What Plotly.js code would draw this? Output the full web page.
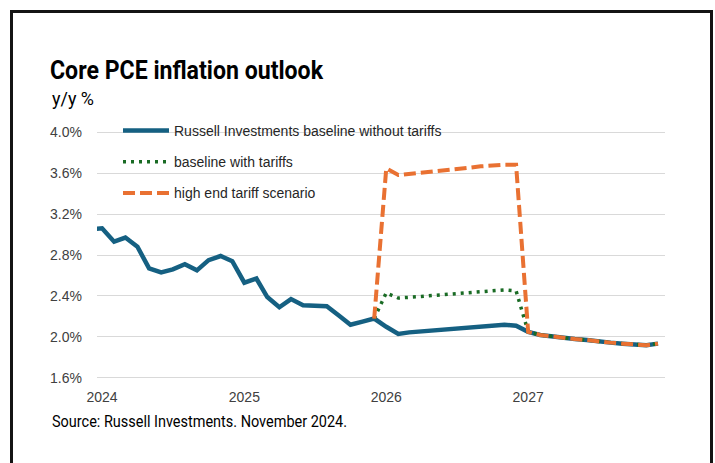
<!DOCTYPE html>
<html>
<head>
<meta charset="utf-8">
<script src="https://cdn.plot.ly/plotly-3.0.1.min.js"></script>
<style>
  html, body { margin: 0; padding: 0; background: #fff; overflow: hidden; }
  #chart { position: absolute; left: 0; top: 0; width: 715px; height: 463px; }
  #frame { position: absolute; left: 10px; top: 10px; width: 697px; height: 480px;
           border: 3px solid #141414; pointer-events: none; }
</style>
</head>
<body>
<div id="chart"></div>
<div id="frame"></div>
<script>
// ---- data (monthly, y/y %) ----
const months = [
  '2023-12',
  '2024-01','2024-02','2024-03','2024-04','2024-05','2024-06','2024-07','2024-08','2024-09','2024-10','2024-11','2024-12',
  '2025-01','2025-02','2025-03','2025-04','2025-05','2025-06','2025-07','2025-08','2025-09','2025-10','2025-11','2025-12',
  '2026-01','2026-02','2026-03','2026-04','2026-05','2026-06','2026-07','2026-08','2026-09','2026-10','2026-11','2026-12',
  '2027-01','2027-02','2027-03','2027-04','2027-05','2027-06','2027-07','2027-08','2027-09','2027-10','2027-11','2027-12'
];
// Russell Investments baseline without tariffs (Dec 2023 .. Dec 2027)
const baseline = [
  3.05,
  3.06, 2.93, 2.97, 2.88, 2.67, 2.63, 2.66, 2.71, 2.65, 2.75, 2.79, 2.74,
  2.53, 2.57, 2.39, 2.29, 2.37, 2.31, 2.30, 2.30, 2.21, 2.12, 2.15, 2.18,
  2.10, 2.03, 2.045, 2.055, 2.065, 2.075, 2.09, 2.10, 2.11, 2.12, 2.12, 2.11,
  2.05, 2.02, 2.005, 1.995, 1.98, 1.97, 1.955, 1.945, 1.935, 1.925, 1.92, 1.935
];
// scenarios start Dec 2025
const scenarioMonths = months.slice(24);
const withTariffs = [
  2.18,
  2.43, 2.38, 2.385, 2.395, 2.405, 2.415, 2.425, 2.435, 2.445, 2.455, 2.46, 2.45,
  2.05, 2.02, 2.005, 1.995, 1.98, 1.97, 1.955, 1.945, 1.935, 1.925, 1.92, 1.935
];
const highEnd = [
  2.18,
  3.645, 3.58, 3.59, 3.60, 3.615, 3.625, 3.635, 3.65, 3.665, 3.675, 3.68, 3.68,
  2.05, 2.02, 2.005, 1.995, 1.98, 1.97, 1.955, 1.945, 1.935, 1.925, 1.92, 1.935
];
const seriesNames = ['Russell Investments baseline without tariffs', 'baseline with tariffs', 'high end tariff scenario'];
const yTicks = [1.6, 2.0, 2.4, 2.8, 3.2, 3.6, 4.0];
const yTickText = ['1.6%', '2.0%', '2.4%', '2.8%', '3.2%', '3.6%', '4.0%'];
const xTicks = ['2024-01-01', '2025-01-01', '2026-01-01', '2027-01-01'];
const xTickText = ['2024', '2025', '2026', '2027'];

const titleText = 'Core PCE inflation outlook';
const unitText = 'y/y %';
const sourceText = 'Source: Russell Investments. November 2024.';

// ---- chart ----
const narrow = '"Liberation Sans Narrow", "Arial Narrow", "Roboto", sans-serif';
const regular = '"Liberation Sans", Arial, sans-serif';

const traces = [
  { x: months, y: baseline, name: seriesNames[0], type: 'scatter', mode: 'lines',
    legendgroup: 'a', line: { color: '#156082', width: 4.5 } },
  { x: scenarioMonths, y: withTariffs, name: seriesNames[1], type: 'scatter', mode: 'lines',
    legendgroup: 'b', line: { color: '#196B24', width: 3.5, dash: '3px,5px' } },
  { x: scenarioMonths, y: highEnd, name: seriesNames[2], type: 'scatter', mode: 'lines',
    legendgroup: 'c', line: { color: '#E97132', width: 4, dash: '12px,5px' } }
];

const L = 97, R = 50, T = 131, B = 84;
const PW = 715 - L - R, PH = 463 - T - B;
const px = v => (v - L) / PW;
const py = v => (463 - B - v) / PH;

const layout = {
  width: 715, height: 463,
  margin: { l: L, r: R, t: T, b: B, pad: 0 },
  paper_bgcolor: '#ffffff', plot_bgcolor: '#ffffff',
  showlegend: true,
  title: { text: titleText, xref: 'container', yref: 'container',
           x: 50 / 715, xanchor: 'left', y: 1 - 70 / 463, yanchor: 'middle',
           font: { family: narrow, size: 26, weight: 'bold', color: '#000000' } },
  xaxis: {
    type: 'date', range: ['2023-12-19', '2027-12-19'],
    tickvals: xTicks, ticktext: xTickText,
    showgrid: false, zeroline: false, showline: false, ticks: '',
    ticklabelstandoff: 8,
    tickfont: { family: regular, size: 14, color: '#404040' }
  },
  yaxis: {
    range: [1.59, 4.01], tickvals: yTicks, ticktext: yTickText,
    showgrid: true, gridcolor: '#D9D9D9', gridwidth: 1,
    zeroline: false, showline: false, ticks: '',
    ticklabelstandoff: 14,
    tickfont: { family: regular, size: 14, color: '#404040' }
  },
  legend: {
    x: px(118), y: py(115), xanchor: 'left', yanchor: 'top',
    bgcolor: 'rgba(0,0,0,0)', borderwidth: 0,
    traceorder: 'grouped', tracegroupgap: 10, itemwidth: 46,
    font: { family: regular, size: 14, color: '#262626' }
  },
  annotations: [
    { text: unitText, xref: 'paper', yref: 'paper', x: px(50), y: py(98),
      xanchor: 'left', yanchor: 'middle', showarrow: false,
      font: { family: narrow, size: 19, color: '#000000' } },
    { text: sourceText, xref: 'paper', yref: 'paper', x: px(50), y: py(421),
      xanchor: 'left', yanchor: 'middle', showarrow: false,
      font: { family: narrow, size: 16, color: '#000000' } }
  ]
};

Plotly.newPlot('chart', traces, layout, { displayModeBar: false, staticPlot: true }).then(gd => {
  // condense the narrow-font texts to their reference widths, keeping the left edge
  const fit = (el, w) => {
    if (!el) return;
    const bb = el.getBBox();
    el.setAttribute('text-anchor', 'start');
    el.setAttribute('x', bb.x);
    el.querySelectorAll('tspan[x]').forEach(t => t.setAttribute('x', bb.x));
    el.setAttribute('textLength', w);
    el.setAttribute('lengthAdjust', 'spacingAndGlyphs');
  };
  fit(gd.querySelector('.gtitle'), 273);
  const ann = gd.querySelectorAll('.annotation-text');
  fit(ann[0], 42);
  fit(ann[1], 295);
});
</script>
</body>
</html>
